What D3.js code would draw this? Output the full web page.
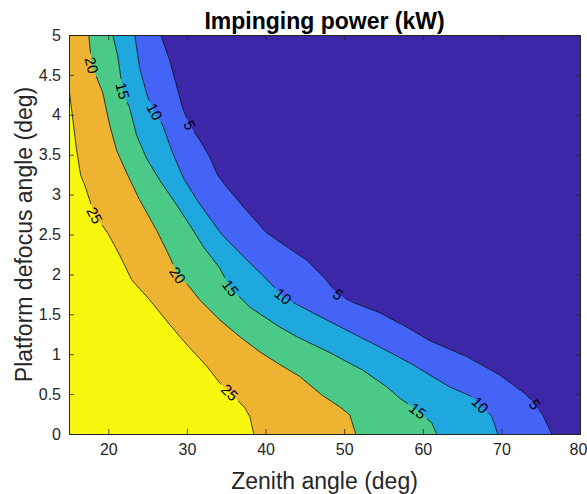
<!DOCTYPE html>
<html>
<head>
<meta charset="utf-8">
<script src="https://cdn.jsdelivr.net/npm/d3@7"></script>
<style>
  html, body { margin: 0; padding: 0; background: #fff; }
  svg { display: block; font-family: "Liberation Sans", Arial, Helvetica, sans-serif; }
</style>
</head>
<body>
<svg id="chart" width="587" height="494"></svg>
<script>
// Axis ranges and ticks
const zenithRange = [15, 80];
const defocusRange = [0, 5];
const zenithTicks = [20, 30, 40, 50, 60, 70, 80];
const defocusTicks = [0, 0.5, 1, 1.5, 2, 2.5, 3, 3.5, 4, 4.5, 5];

// Contour levels of impinging power (kW) and the band colours (lowest band first)
const levels = [5, 10, 15, 20, 25];
const bandColors = ["#3C27A8", "#4463F7", "#1EA8DD", "#4BC986", "#EEB431", "#F8F80F"];

// Iso-power lines, as [zenith angle, defocus angle] pairs
const contour5 = [[26.67,5],[27.81,4.68],[29.47,4.08],[30.36,3.87],[31.63,3.68],[32.9,3.47],[33.92,3.24],[35.19,3.08],[36.98,2.87],[38.5,2.7],[40.03,2.53],[42.19,2.38],[45.24,2.18],[47.53,1.95],[49.19,1.75],[51.09,1.65],[54.53,1.52],[57.96,1.34],[60.89,1.17],[65.59,0.97],[69.79,0.74],[73.22,0.49],[74.24,0.37],[75.26,0.24],[76.41,0]];
const contour10 = [[23.36,5],[24.0,4.58],[25.01,4.22],[25.9,4.04],[26.92,3.87],[28.07,3.55],[29.59,3.2],[31.5,2.9],[34.43,2.5],[37.73,2.17],[39.52,2.0],[42.19,1.73],[43.46,1.65],[46.01,1.52],[50.33,1.3],[54.53,1.09],[58.73,0.87],[60.89,0.74],[63.43,0.59],[66.23,0.47],[67.25,0.37],[68.78,0.22],[69.54,0]];
const contour15 = [[20.56,5],[21.2,4.74],[21.83,4.3],[22.72,4.08],[23.61,3.74],[24.89,3.45],[26.54,3.18],[28.7,2.87],[30.61,2.58],[32.14,2.34],[34.17,2.08],[35.45,1.84],[37.99,1.59],[41.81,1.34],[43.97,1.22],[48.17,1.02],[52.37,0.8],[55.42,0.59],[57.07,0.45],[59.36,0.29],[61.14,0.14],[61.78,0]];
const contour20 = [[17.51,5],[17.89,4.62],[19.29,4.28],[20.18,3.87],[21.07,3.55],[22.34,3.27],[24.0,2.93],[26.16,2.55],[27.81,2.22],[28.83,1.99],[30.1,1.87],[31.63,1.68],[34.17,1.43],[36.72,1.22],[39.26,1.03],[41.81,0.87],[44.35,0.72],[47.15,0.49],[49.44,0.34],[50.71,0.24],[51.48,0]];
const contour25 = [[15,4.33],[15.98,3.55],[16.49,3.24],[17.0,3.12],[18.27,2.74],[19.92,2.52],[21.45,2.24],[22.98,1.93],[25.27,1.68],[27.81,1.37],[29.98,1.12],[32.52,0.85],[34.17,0.64],[35.45,0.52],[37.35,0.33],[37.99,0.22],[38.5,0]];
const contourLines = [contour5, contour10, contour15, contour20, contour25];

// Inline contour labels: which level (index into levels) and where along that line
const labelLevelIdx = [3, 2, 1, 0, 4, 3, 2, 1, 0, 4, 2, 1, 0];
const labelAnchor = [[17.89,4.62],[21.83,4.3],[25.9,4.04],[30.36,3.87],[18.27,2.74],[28.83,1.99],[35.57,1.83],[42.19,1.72],[49.19,1.74],[35.45,0.52],[59.36,0.29],[67.25,0.36],[74.24,0.37]];

const titleText = "Impinging power (kW)";
const xTitle = "Zenith angle (deg)";
const yTitle = "Platform defocus angle (deg)";

const W = 587, H = 494;
const margin = { left: 69, right: 7, top: 35, bottom: 60 };
const pw = W - margin.left - margin.right;
const ph = H - margin.top - margin.bottom;

const svg = d3.select("#chart");
const g = svg.append("g").attr("transform", `translate(${margin.left},${margin.top})`);

const x = d3.scaleLinear().domain(zenithRange).range([0, pw]);
const y = d3.scaleLinear().domain(defocusRange).range([ph, 0]);
const line = d3.line().x(d => x(d[0])).y(d => y(d[1]));

g.append("clipPath").attr("id", "plotClip")
  .append("rect").attr("width", pw).attr("height", ph);

const fills = g.append("g").attr("clip-path", "url(#plotClip)");
fills.append("rect").attr("width", pw).attr("height", ph).attr("fill", bandColors[0]);

// Each band fills the region on the low-zenith, low-defocus side of its line
contourLines.forEach((pts, i) => {
  const poly = pts.concat([[zenithRange[0], defocusRange[0]], [zenithRange[0], defocusRange[1]]]);
  fills.append("path")
    .attr("d", line(poly) + "Z")
    .attr("fill", bandColors[i + 1]);
});

// Screen-space polylines for label placement
const screenLines = contourLines.map(pts => pts.map(p => [x(p[0]), y(p[1])]));

function cumLengths(pl) {
  const c = [0];
  for (let i = 1; i < pl.length; i++) c.push(c[i - 1] + Math.hypot(pl[i][0] - pl[i - 1][0], pl[i][1] - pl[i - 1][1]));
  return c;
}
function pointAt(pl, c, s) {
  s = Math.max(0, Math.min(c[c.length - 1], s));
  for (let i = 1; i < pl.length; i++) {
    if (c[i] >= s) {
      const t = (s - c[i - 1]) / ((c[i] - c[i - 1]) || 1);
      return [pl[i - 1][0] + t * (pl[i][0] - pl[i - 1][0]), pl[i - 1][1] + t * (pl[i][1] - pl[i - 1][1])];
    }
  }
  return pl[pl.length - 1];
}
function project(pl, c, p) {
  let best = { d: Infinity, s: 0, pt: pl[0] };
  for (let i = 1; i < pl.length; i++) {
    const a = pl[i - 1], b = pl[i];
    const dx = b[0] - a[0], dy = b[1] - a[1];
    const L2 = dx * dx + dy * dy || 1;
    let t = ((p[0] - a[0]) * dx + (p[1] - a[1]) * dy) / L2;
    t = Math.max(0, Math.min(1, t));
    const q = [a[0] + t * dx, a[1] + t * dy];
    const d = Math.hypot(p[0] - q[0], p[1] - q[1]);
    if (d < best.d) best = { d, s: c[i - 1] + t * Math.sqrt(L2), pt: q };
  }
  return best;
}

const labels = labelAnchor.map((a, k) => {
  const li = labelLevelIdx[k];
  const pl = screenLines[li];
  const c = cumLengths(pl);
  const pr = project(pl, c, [x(a[0]), y(a[1])]);
  const p0 = pointAt(pl, c, pr.s - 10), p1 = pointAt(pl, c, pr.s + 10);
  let ang = Math.atan2(p1[1] - p0[1], p1[0] - p0[0]) * 180 / Math.PI;
  if (ang > 90) ang -= 180;
  if (ang < -90) ang += 180;
  return { text: String(levels[li]), pos: pr.pt, ang };
});

// Mask that breaks the lines where labels sit
const mask = g.append("mask").attr("id", "labelMask").attr("maskUnits", "userSpaceOnUse")
  .attr("x", -10).attr("y", -10).attr("width", pw + 20).attr("height", ph + 20);
mask.append("rect").attr("x", -10).attr("y", -10).attr("width", pw + 20).attr("height", ph + 20).attr("fill", "#fff");
labels.forEach(l => {
  const w = l.text.length * 9 + 6;
  mask.append("rect")
    .attr("x", -w / 2).attr("y", -7).attr("width", w).attr("height", 14)
    .attr("fill", "#000")
    .attr("transform", `translate(${l.pos[0]},${l.pos[1]}) rotate(${l.ang})`);
});

g.append("g").attr("clip-path", "url(#plotClip)")
  .append("g").attr("mask", "url(#labelMask)")
  .selectAll("path").data(screenLines).join("path")
  .attr("d", pl => d3.line()(pl))
  .attr("fill", "none").attr("stroke", "#111").attr("stroke-width", 0.8);

g.append("g").selectAll("text").data(labels).join("text")
  .attr("transform", l => `translate(${l.pos[0]},${l.pos[1]}) rotate(${l.ang})`)
  .attr("text-anchor", "middle").attr("dy", "0.36em")
  .attr("font-size", 15).attr("fill", "#000")
  .text(l => l.text);

// Axes: box with inward ticks on all four sides
const axisColor = "#262626";
const tickLen = 5;
const xAxisB = g.append("g").attr("transform", `translate(0,${ph})`)
  .call(d3.axisBottom(x).tickValues(zenithTicks).tickSize(-tickLen).tickPadding(10).tickFormat(d3.format("d")));
const xAxisT = g.append("g")
  .call(d3.axisTop(x).tickValues(zenithTicks).tickSize(-tickLen).tickFormat(""));
const yAxisL = g.append("g")
  .call(d3.axisLeft(y).tickValues(defocusTicks).tickSize(-tickLen).tickPadding(8).tickFormat(d => String(d)));
const yAxisR = g.append("g").attr("transform", `translate(${pw},0)`)
  .call(d3.axisRight(y).tickValues(defocusTicks).tickSize(-tickLen).tickFormat(""));

[xAxisB, xAxisT, yAxisL, yAxisR].forEach(a => {
  a.select(".domain").attr("stroke", axisColor).attr("stroke-width", 1);
  a.selectAll(".tick line").attr("stroke", axisColor).attr("stroke-width", 0.8);
  a.selectAll(".tick text").attr("fill", axisColor).attr("font-size", 16)
    .attr("font-family", "Liberation Sans, Arial, sans-serif");
});
// keep the last zenith label inside the page
xAxisB.selectAll(".tick text").filter(d => d === zenithRange[1]).attr("dx", -2);

// Titles
svg.append("text")
  .attr("x", margin.left + pw / 2).attr("y", 29)
  .attr("text-anchor", "middle").attr("font-size", 23).attr("font-weight", "bold").attr("fill", "#000")
  .text(titleText);

svg.append("text")
  .attr("x", margin.left + pw / 2).attr("y", 489)
  .attr("text-anchor", "middle").attr("font-size", 23).attr("fill", axisColor)
  .text(xTitle);

svg.append("text")
  .attr("transform", `translate(32,${margin.top + ph / 2}) rotate(-90)`)
  .attr("text-anchor", "middle").attr("font-size", 23).attr("fill", axisColor)
  .text(yTitle);
</script>
</body>
</html>
